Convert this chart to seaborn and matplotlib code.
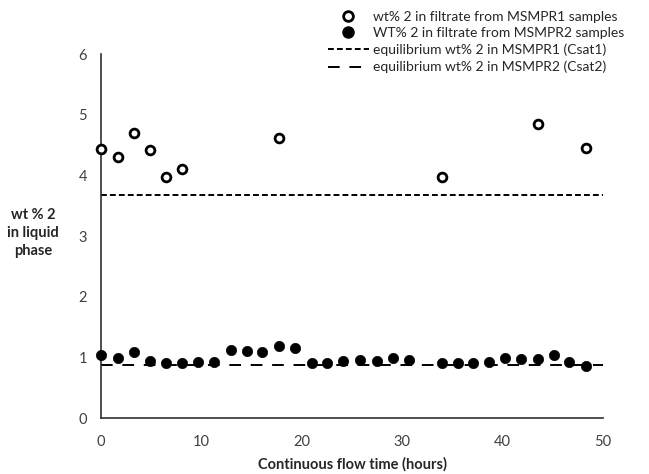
import matplotlib
matplotlib.use("Agg")
import matplotlib.pyplot as plt
import seaborn as sns
import pandas as pd
from matplotlib.lines import Line2D

# ---- data ----
t_msmpr1 = [0, 1.66, 3.29, 4.88, 6.44, 8.10, 17.73, 33.94, 43.5, 48.3]
wt_msmpr1 = [4.44, 4.30, 4.69, 4.42, 3.97, 4.10, 4.62, 3.98, 4.85, 4.45]

t_msmpr2 = [0, 1.66, 3.29, 4.88, 6.44, 8.10, 9.69, 11.25, 12.95, 14.51,
            16.06, 17.73, 19.32, 20.98, 22.53, 24.13, 25.80, 27.46, 29.06, 30.71,
            33.94, 35.59, 37.02, 38.65, 40.24, 41.83, 43.5, 45.12, 46.64, 48.29]
wt_msmpr2 = [1.04, 0.99, 1.08, 0.94, 0.91, 0.91, 0.92, 0.93, 1.12, 1.11,
             1.08, 1.19, 1.15, 0.90, 0.91, 0.94, 0.96, 0.94, 0.99, 0.96,
             0.90, 0.91, 0.91, 0.92, 0.99, 0.97, 0.98, 1.04, 0.93, 0.86]

csat_time = [0, 50]
csat1 = 3.67
csat2 = 0.87

labels = ["wt% 2 in filtrate from MSMPR1 samples",
          "WT% 2 in filtrate from MSMPR2 samples",
          "equilibrium wt% 2 in MSMPR1 (Csat1)",
          "equilibrium wt% 2 in MSMPR2 (Csat2)"]
x_ticks = [0, 10, 20, 30, 40, 50]
y_ticks = [0, 1, 2, 3, 4, 5, 6]

sns.set_style("white")
plt.rcParams['font.family'] = ['Lato', 'DejaVu Sans']

fig = plt.figure(figsize=(6.49, 4.74), dpi=100)
ax = fig.add_axes([101/649, 1-418/474, (603-101)/649, (418-54)/474])

df1 = pd.DataFrame({"t": t_msmpr1, "wt": wt_msmpr1})
df2 = pd.DataFrame({"t": t_msmpr2, "wt": wt_msmpr2})
dl1 = pd.DataFrame({"t": csat_time, "wt": [csat1] * len(csat_time)})
dl2 = pd.DataFrame({"t": csat_time, "wt": [csat2] * len(csat_time)})

sns.lineplot(data=dl1, x="t", y="wt", ax=ax, color="black", lw=1.4,
             linestyle=(0, (3, 1.6)), zorder=2)
sns.lineplot(data=dl2, x="t", y="wt", ax=ax, color="black", lw=1.4,
             linestyle=(0, (6, 5)), zorder=2)
sns.scatterplot(data=df1, x="t", y="wt", ax=ax, marker="o", s=40,
                facecolor="white", edgecolor="black", linewidth=2.0,
                zorder=4, clip_on=False)
sns.scatterplot(data=df2, x="t", y="wt", ax=ax, marker="o", s=55,
                color="black", edgecolor="black", linewidth=0.5,
                zorder=4, clip_on=False)

ax.set_xlim(0, 50)
ax.set_ylim(0, 6)
ax.set_xticks(x_ticks)
ax.set_yticks(y_ticks)
ax.tick_params(axis="both", direction="out", length=4, width=1,
               color="#404040", labelcolor="#404040", labelsize=10.5)
ax.tick_params(axis="x", pad=8)
ax.tick_params(axis="y", pad=6)
for s in ["top", "right"]:
    ax.spines[s].set_visible(False)
for s in ["left", "bottom"]:
    ax.spines[s].set_color("#303030")
    ax.spines[s].set_linewidth(1.2)

ax.set_xlabel("")
ax.set_ylabel("")
fig.text(352/649, 1-464/474, "Continuous flow time (hours)", ha="center",
         va="center", fontweight="bold", fontsize=10.5)
fig.text(33/649, 1-233/474, "wt % 2\nin liquid\nphase", ha="center", va="center",
         fontweight="bold", fontsize=10.5, linespacing=1.35)

handles = [
    Line2D([], [], marker="o", ls="none", markerfacecolor="white",
           markeredgecolor="black", markeredgewidth=2.0, markersize=7),
    Line2D([], [], marker="o", ls="none", color="black", markersize=8),
    Line2D([], [], color="black", lw=1.4, linestyle=(0, (3, 1.6))),
    Line2D([], [], color="black", lw=1.4, linestyle=(0, (6, 5))),
]
leg = fig.legend(handles, labels, loc="upper left",
                 bbox_to_anchor=(322/649, 1-5/474), frameon=False,
                 fontsize=10, handlelength=3.0, handletextpad=0.3,
                 labelspacing=0.33, borderaxespad=0)

fig.savefig("out.png", dpi=100)
